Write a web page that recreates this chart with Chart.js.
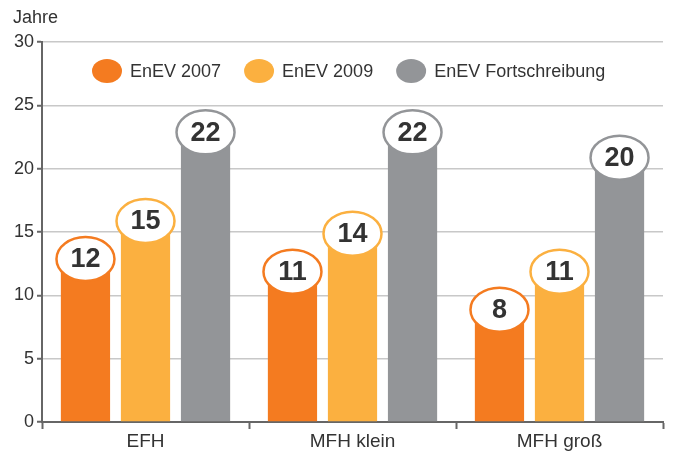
<!DOCTYPE html>
<html lang="de">
<head>
    <meta charset="UTF-8">
    <title>EnEV Amortisation</title>
    <script src="https://cdn.jsdelivr.net/npm/chart.js"></script>
    <style>
        html, body { margin: 0; padding: 0; background: #fff; }
        #wrap { position: relative; width: 674px; height: 454px; }
    </style>
</head>
<body>
    <div id="wrap"><canvas id="chart" width="674" height="454"></canvas></div>

    <script>
        const categories = ['EFH', 'MFH klein', 'MFH groß'];
        const seriesNames = ['EnEV 2007', 'EnEV 2009', 'EnEV Fortschreibung'];
        const enev2007 = [12, 11, 8];
        const enev2009 = [15, 14, 11];
        const enevFort = [22, 22, 20];
        const yTicks = [0, 5, 10, 15, 20, 25, 30];

        const colors = ['#F47B20', '#FBB040', '#939598'];
        const textColor = '#333333';
        const fontName = '"Liberation Sans", Arial, sans-serif';

        // white ellipse with value on top of every bar
        const bubbles = {
            id: 'bubbles',
            afterDatasetsDraw(chart) {
                const ctx = chart.ctx;
                chart.data.datasets.forEach((ds, i) => {
                    const meta = chart.getDatasetMeta(i);
                    meta.data.forEach((bar, j) => {
                        const cx = bar.x, cy = bar.y - 11;
                        ctx.save();
                        ctx.beginPath();
                        ctx.ellipse(cx, cy, 29, 22, 0, 0, Math.PI * 2);
                        ctx.fillStyle = '#fff';
                        ctx.fill();
                        ctx.lineWidth = 2.5;
                        ctx.strokeStyle = ds.borderColor;
                        ctx.stroke();
                        ctx.fillStyle = textColor;
                        ctx.font = 'bold 27px ' + fontName;
                        ctx.textAlign = 'center';
                        ctx.textBaseline = 'middle';
                        ctx.fillText(ds.data[j], cx, cy + 1);
                        ctx.restore();
                    });
                });
            }
        };

        // legend with oval markers + "Jahre" title
        const legendOval = {
            id: 'legendOval',
            afterDraw(chart) {
                const ctx = chart.ctx;
                ctx.save();
                ctx.font = '18px ' + fontName;
                ctx.textBaseline = 'middle';
                ctx.textAlign = 'left';
                ctx.fillStyle = textColor;
                ctx.fillText('Jahre', 13, 18);

                let x = 92;
                const y = 71;
                chart.data.datasets.forEach((ds) => {
                    ctx.beginPath();
                    ctx.ellipse(x + 15, y, 15, 12, 0, 0, Math.PI * 2);
                    ctx.fillStyle = ds.backgroundColor;
                    ctx.fill();
                    ctx.fillStyle = textColor;
                    ctx.fillText(ds.label, x + 38, y + 1);
                    x += 38 + ctx.measureText(ds.label).width + 23;
                });
                ctx.restore();
            }
        };

        const makeSet = (i, data) => ({
            label: seriesNames[i],
            data: data,
            backgroundColor: colors[i],
            borderColor: colors[i],
            borderWidth: 0
        });

        new Chart(document.getElementById('chart'), {
            type: 'bar',
            data: {
                labels: categories,
                datasets: [makeSet(0, enev2007), makeSet(1, enev2009), makeSet(2, enevFort)]
            },
            options: {
                responsive: false,
                animation: false,
                layout: { padding: { top: 42, right: 11, left: 0, bottom: 0 } },
                categoryPercentage: 0.87,
                barPercentage: 0.82,
                plugins: {
                    legend: { display: false },
                    tooltip: { enabled: false }
                },
                scales: {
                    x: {
                        grid: {
                            offset: true,
                            drawOnChartArea: false,
                            drawTicks: true,
                            tickLength: 7,
                            tickWidth: 2,
                            tickColor: '#666'
                        },
                        border: { color: '#666', width: 2 },
                        ticks: {
                            color: textColor,
                            font: { family: fontName, size: 19 },
                            padding: 1
                        },
                        afterFit: (s) => { s.height = 32; }
                    },
                    y: {
                        min: 0,
                        max: 30,
                        afterBuildTicks: (s) => { s.ticks = yTicks.map(v => ({ value: v })); },
                        grid: {
                            color: '#c8c8c8',
                            lineWidth: 1.5,
                            tickLength: 5,
                            tickColor: '#666',
                            tickWidth: 2
                        },
                        border: { color: '#666', width: 2 },
                        ticks: {
                            color: textColor,
                            font: { family: fontName, size: 18 },
                            padding: 3
                        },
                        afterFit: (s) => { s.width = 42; }
                    }
                }
            },
            plugins: [bubbles, legendOval]
        });
    </script>
</body>
</html>
